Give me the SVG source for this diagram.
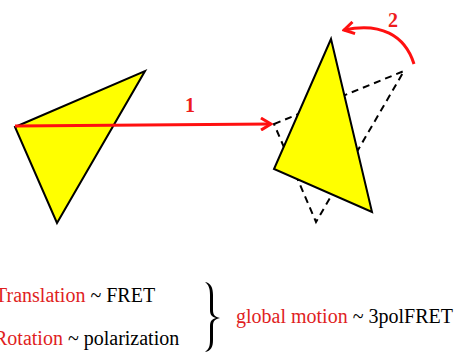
<svg xmlns="http://www.w3.org/2000/svg" width="469" height="352" viewBox="0 0 469 352">
<style>
.tri{fill:#ffff00;stroke:#000;stroke-width:2;stroke-linejoin:miter}
.dash{fill:none;stroke:#000;stroke-width:2;stroke-dasharray:7,5}
.arr{fill:none;stroke:#ff1010;stroke-width:3}
.lbl{font-weight:bold;font-size:20px;fill:#ee1c1c}
.t{font-size:20px;fill:#000}
.r{fill:#e01e1e}
</style>
<defs>
<marker id="chev" viewBox="0 0 14 14" refX="12" refY="7" markerWidth="14" markerHeight="14" markerUnits="userSpaceOnUse" orient="auto">
<path d="M2,1 L12,7 L2,13" fill="none" stroke="#ff1010" stroke-width="3"/>
</marker>
</defs>
<rect width="469" height="352" fill="#fff"/>
<g id="left-triangle">
<polygon class="tri" points="15,127 145,71 57,223"/>
</g>
<g id="dashed-triangle">
<polygon class="dash" points="274,124 404,71 316,222"/>
</g>
<g id="right-triangle">
<polygon class="tri" points="331,39 274,169 372,212"/>
</g>
<g id="connectors">
<line class="arr" x1="15" y1="126" x2="271" y2="124" marker-end="url(#chev)"/>
<path class="arr" d="M414,64 C405,35 380,22 344,30" marker-end="url(#chev)"/>
</g>
<g id="labels" font-family="'Liberation Serif', 'DejaVu Serif', serif">
<text class="lbl" x="190" y="112" text-anchor="middle">1</text>
<text class="lbl" x="393" y="27" text-anchor="middle">2</text>
</g>
<g id="legend" font-family="'Liberation Serif', 'DejaVu Serif', serif">
<text class="t" x="-5" y="302"><tspan class="r">Translation</tspan> ~ FRET</text>
<text class="t" x="-6" y="345"><tspan class="r">Rotation</tspan> ~ polarization</text>
<path d="M205,282 C211,283 213,288 213,295 L213,310 C213,315 215,317 220,318 C215,319 213,321 213,326 L213,340 C213,347 211,351 205,352 C209,349 210,346 210,340 L210,326 C210,321 212,319 216,318 C212,317 210,315 210,310 L210,295 C210,289 209,285 205,282 Z" fill="#000"/>
<text class="t" x="236" y="323"><tspan class="r">global motion</tspan> ~ 3polFRET</text>
</g>
</svg>
